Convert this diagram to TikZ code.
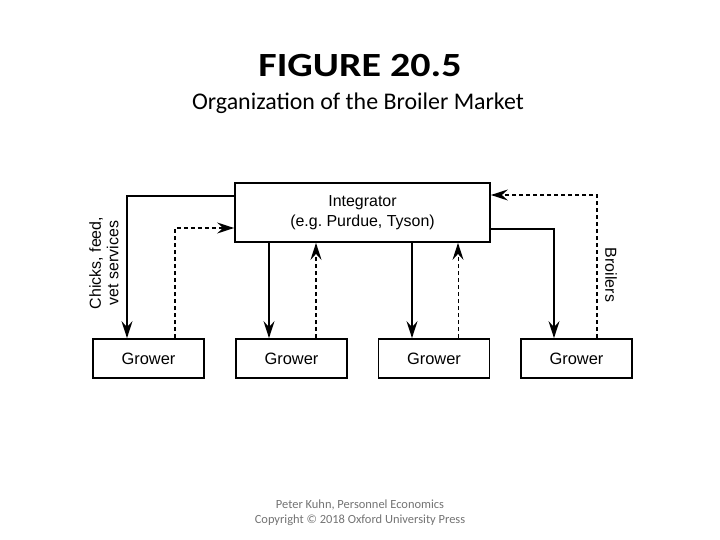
\documentclass[tikz,border=0pt]{standalone}
\usepackage{fontspec}
\setmainfont{Liberation Sans}
\newfontfamily\calib{Carlito}
\usetikzlibrary{arrows.meta}
\frenchspacing
\begin{document}
\begin{tikzpicture}[x=1bp,y=-1bp,
  box/.style={draw,line width=1.8bp,inner sep=0pt,font=\fontsize{16.5}{19}\selectfont},
  tip/.style={-{Stealth[length=17bp,width=11bp,inset=6bp]}},
  arr/.style={line width=1.7bp,tip},
  darr/.style={line width=1.7bp,dash pattern=on 4bp off 3bp,tip},
  tdarr/.style={line width=1bp,dash pattern=on 4bp off 3bp,tip},
  lbl/.style={font=\fontsize{16}{17.5}\selectfont,align=center}]
\useasboundingbox (0,0) rectangle (720,540);
\node[font=\calib\bfseries\fontsize{34}{40}\selectfont,xscale=1.18] (title) at (360,66) {FIGURE 20.5};
\node[font=\calib\fontsize{24}{28}\selectfont] (sub) at (358,103) {Organization of the Broiler Market};
\node[font=\calib\fontsize{12.5}{15}\selectfont,text=black!55,align=center] (foot) at (360,513) {Peter Kuhn, Personnel Economics\\Copyright \textcopyright{} 2018 Oxford University Press};
\node[box,minimum width=255bp,minimum height=59bp,align=center,font=\fontsize{16}{20}\selectfont] (int) at (362.5,212.5) {Integrator\\(e.g. Purdue, Tyson)};
\node[box,minimum width=111bp,minimum height=39bp] (g1) at (148.5,358.5) {Grower};
\node[box,minimum width=111bp,minimum height=39bp] (g2) at (291.5,358.5) {Grower};
\node[box,minimum width=111bp,minimum height=39bp] (g3) at (434,358.5) {Grower};
\node[box,minimum width=111bp,minimum height=39bp] (g4) at (576.5,358.5) {Grower};
% grower 1
\draw[arr] (int.west |- 0,196) -| (g1.north -| 127,0);
\draw[darr] (g1.north -| 175,0) |- (int.west |- 0,228);
% grower 2
\draw[arr] (int.south -| 269,0) -- (g2.north -| 269,0);
\draw[darr] (g2.north -| 316,0) -- (int.south -| 316,0);
% grower 3
\draw[arr] (int.south -| 412,0) -- (g3.north -| 412,0);
\draw[tdarr] (g3.north -| 458,0) -- (int.south -| 458,0);
% grower 4
\draw[arr] (int.east |- 0,229) -| (g4.north -| 554,0);
\draw[darr] (g4.north -| 597,0) |- (int.east |- 0,195);
% labels
\node[lbl,rotate=90] (lchk) at (104,263) {Chicks, feed,\\vet services};
\node[lbl,rotate=-90] (lbro) at (611,275) {Broilers};
\end{tikzpicture}
\end{document}
